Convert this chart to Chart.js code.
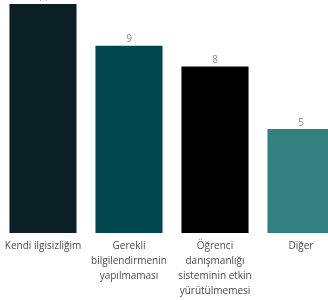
<!DOCTYPE html>
<html>
<head>
<meta charset="utf-8">
<script src="https://cdn.jsdelivr.net/npm/chart.js@4"></script>
<style>
  html, body { margin: 0; padding: 0; background: #fff; overflow: hidden; }
  #wrap { position: relative; width: 344px; height: 300px; }
</style>
</head>
<body>
<div id="wrap"><canvas id="myChart"></canvas></div>
<script>
// categories (multi-line as in the picture)
const categories = [
  ["Kendi ilgisizliğim"],
  ["Gerekli", "bilgilendirmenin", "yapılmaması"],
  ["Öğrenci", "danışmanlığı", "sisteminin etkin", "yürütülmemesi"],
  ["Diğer"]
];
const counts = [11, 9, 8, 5];
const barColors = ['#0a2024', '#014851', '#000000', '#33807f'];

// draws the number above each bar
const valueLabels = {
  id: 'valueLabels',
  afterDatasetsDraw(chart) {
    const ctx = chart.ctx;
    const meta = chart.getDatasetMeta(0);
    ctx.save();
    ctx.fillStyle = '#8a8a8a';
    ctx.font = '10px "Open Sans"';
    ctx.textAlign = 'center';
    ctx.textBaseline = 'bottom';
    meta.data.forEach(function (bar, i) {
      ctx.fillText(String(counts[i]), bar.x, bar.y - 1);
    });
    ctx.restore();
  }
};

const data = {
  labels: categories,
  datasets: [{
    data: counts,
    backgroundColor: barColors,
    borderWidth: 0,
    barPercentage: 0.78,
    categoryPercentage: 1.0
  }]
};

const config = {
  type: 'bar',
  data: data,
  options: {
    responsive: true,
    maintainAspectRatio: false,
    animation: false,
    layout: { padding: { top: 4, left: 0, right: 0, bottom: 0 } },
    plugins: {
      legend: { display: false },
      tooltip: { enabled: false }
    },
    scales: {
      x: {
        grid: { display: false },
        border: { display: false },
        ticks: {
          color: '#4a4a4a',
          font: { family: 'Open Sans', size: 10, lineHeight: 1.5 },
          padding: -2,
          maxRotation: 0,
          autoSkip: false
        },
        afterFit: function (s) { s.height = 67; }
      },
      y: {
        display: false,
        min: 0,
        max: 11
      }
    }
  },
  plugins: [valueLabels]
};

const myChart = new Chart(document.getElementById('myChart'), config);
</script>
</body>
</html>
